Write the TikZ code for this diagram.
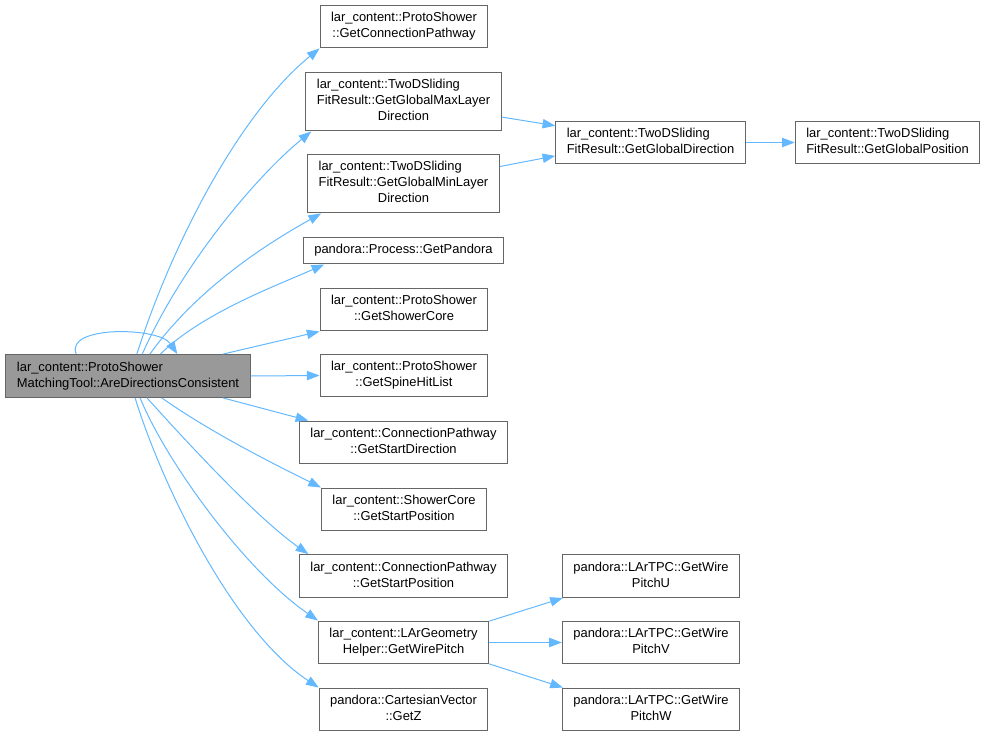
\documentclass[tikz,border=0pt]{standalone}
\usepackage{fontspec}
\setmainfont{Liberation Sans}
\usetikzlibrary{arrows.meta}

\definecolor{callblue}{HTML}{63B8FF}
\definecolor{boxgrey}{HTML}{666666}
\definecolor{rootfill}{HTML}{999999}

% one line centred under the left-aligned ones
\newcommand{\ctrline}[1]{\multicolumn{1}{@{}c@{}}{#1}}
\newcommand{\fnlabel}[1]{\begin{tabular}{@{}l@{}}#1\end{tabular}}

\tikzset{
  fn/.style={draw=boxgrey, line width=0.75pt, fill=white, inner xsep=8.25pt,
    inner ysep=4.1pt, font=\fontsize{9.7}{12}\selectfont},
  fnroot/.style={fn, fill=rootfill},
  call/.style={color=callblue, line width=0.75pt, -{Triangle[length=9.5pt,width=7pt]}}
}

\begin{document}
\begin{tikzpicture}[x=0.75pt,y=-0.75pt]

            \useasboundingbox (0,0) rectangle (986,736);

            \node[fnroot] (root) at (128,376) {\fnlabel{lar\_content::ProtoShower\\\ctrline{MatchingTool::AreDirectionsConsistent}}};

            \node[fn] (pathway) at (404,26.5) {\fnlabel{lar\_content::ProtoShower\\\ctrline{::GetConnectionPathway}}};
            \node[fn] (maxdir) at (403.5,101.5) {\fnlabel{lar\_content::TwoDSliding\\FitResult::GetGlobalMaxLayer\\\ctrline{Direction}}};
            \node[fn] (mindir) at (403.5,183.5) {\fnlabel{lar\_content::TwoDSliding\\FitResult::GetGlobalMinLayer\\\ctrline{Direction}}};
            \node[fn] (pandora) at (403.5,250.5) {\fnlabel{pandora::Process::GetPandora}};
            \node[fn] (core) at (404,309.5) {\fnlabel{lar\_content::ProtoShower\\\ctrline{::GetShowerCore}}};
            \node[fn] (spine) at (404,375.5) {\fnlabel{lar\_content::ProtoShower\\\ctrline{::GetSpineHitList}}};
            \node[fn] (startdir) at (403.5,442.5) {\fnlabel{lar\_content::ConnectionPathway\\\ctrline{::GetStartDirection}}};
            \node[fn] (corestart) at (404,509.5) {\fnlabel{lar\_content::ShowerCore\\\ctrline{::GetStartPosition}}};
            \node[fn] (pathstart) at (403.5,576) {\fnlabel{lar\_content::ConnectionPathway\\\ctrline{::GetStartPosition}}};
            \node[fn] (pitch) at (403.5,642.5) {\fnlabel{lar\_content::LArGeometry\\\ctrline{Helper::GetWirePitch}}};
            \node[fn] (getz) at (403.5,709.5) {\fnlabel{pandora::CartesianVector\\\ctrline{::GetZ}}};

            \node[fn] (globaldir) at (650.5,142.5) {\fnlabel{lar\_content::TwoDSliding\\\ctrline{FitResult::GetGlobalDirection}}};
            \node[fn] (globalpos) at (887.5,142.5) {\fnlabel{lar\_content::TwoDSliding\\\ctrline{FitResult::GetGlobalPosition}}};

            \node[fn] (pitchu) at (651,576) {\fnlabel{pandora::LArTPC::GetWire\\\ctrline{PitchU}}};
            \node[fn] (pitchv) at (651,642.5) {\fnlabel{pandora::LArTPC::GetWire\\\ctrline{PitchV}}};
            \node[fn] (pitchw) at (651,709.5) {\fnlabel{pandora::LArTPC::GetWire\\\ctrline{PitchW}}};

            % calls fanning out of the root
            \draw[call] (root.68) .. controls +(35,-110) and +(-80,65) .. (pathway.south west);
            \draw[call] (root.57) .. controls +(40,-90) and +(-55,45) .. (maxdir.198);
            \draw[call] (root.45) .. controls +(50,-70) and +(-45,25) .. (mindir.200);
            \draw[call] (root.34) .. controls +(40,-40) and +(-50,22) .. (pandora.190);
            \draw[call] (root.157) .. controls +(-12,-29) and +(-18,-27) .. (root.24);
            \draw[call] (root.327) .. controls +(50,35) and +(-50,-25) .. (corestart.north west);
            \draw[call] (root.311) .. controls +(45,50) and +(-50,-35) .. (pathstart.167);
            \draw[call] (root.299) .. controls +(25,62) and +(-74,-51) .. (pitch.north west);
            \draw[call] (root.288) .. controls +(25,82) and +(-88,-58) .. (getz.north west);

            \path[call] (root.13) edge (core.south west)
                        (root.east) edge (spine.west)
                        (root.347) edge (startdir.167)
                        (maxdir.351) edge (globaldir.170)
                        (mindir.10) edge (globaldir.188)
                        (globaldir) edge (globalpos)
                        (pitch.14) edge (pitchu.194)
                        (pitch) edge (pitchv)
                        (pitch.346) edge (pitchw.166);

        \end{tikzpicture}
\end{document}
